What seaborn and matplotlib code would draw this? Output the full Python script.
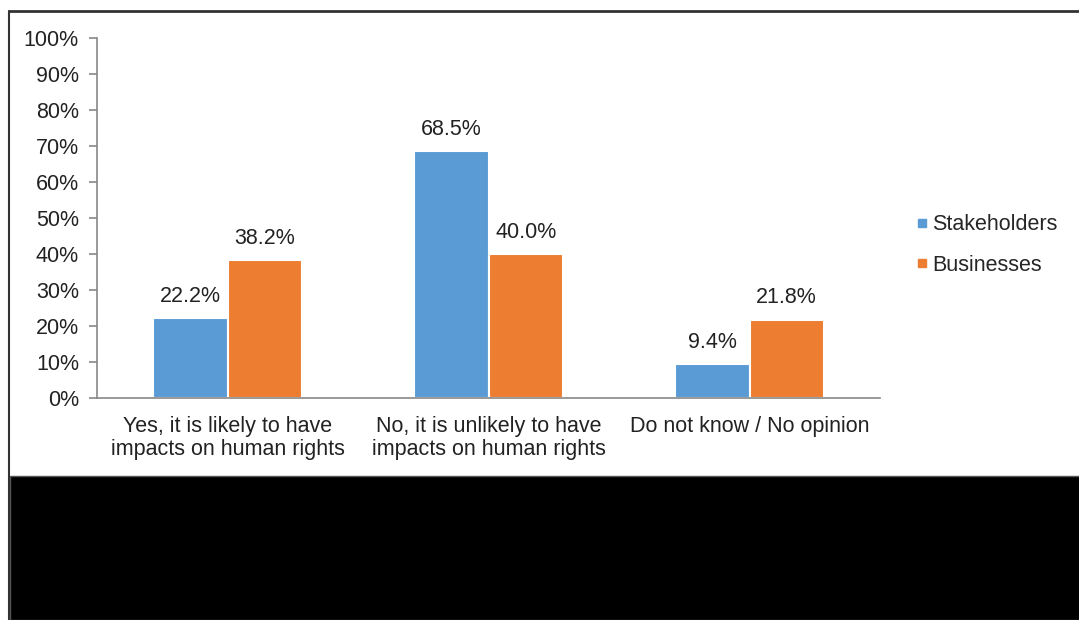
import pandas as pd
import matplotlib.pyplot as plt
import matplotlib.patches as mpatches
from matplotlib.lines import Line2D
import seaborn as sns

# chart data
categories = ['Yes, it is likely to have\nimpacts on human rights',
              'No, it is unlikely to have\nimpacts on human rights',
              'Do not know / No opinion']
groups = ['Stakeholders', 'Businesses']
stakeholders = [22.2, 68.5, 9.4]
businesses = [38.2, 40.0, 21.8]
colors = ['#5B9BD5', '#ED7D31']

df = pd.DataFrame({
    'answer': categories * 2,
    'group': [groups[0]] * 3 + [groups[1]] * 3,
    'value': stakeholders + businesses,
})

sns.set_style('white')
plt.rcParams['font.family'] = ['Liberation Sans', 'DejaVu Sans']
fs = 15.5

fig = plt.figure(figsize=(10.79, 6.2), dpi=100)
ax = fig.add_axes([97 / 1079, 1 - 398 / 620, (880 - 97) / 1079, (398 - 38) / 620])

sns.barplot(data=df, x='answer', y='value', hue='group', palette=colors,
            width=0.57, edgecolor='white', linewidth=1.5, saturation=1,
            legend=False, ax=ax)

# value labels
for cont in ax.containers:
    ax.bar_label(cont, labels=[f'{b.get_height():.1f}%' for b in cont],
                 padding=8, fontsize=fs, color='#222222')

ax.set_xlim(-0.5, 2.5)
ax.set_ylim(0, 100)
ax.set_yticks(range(0, 101, 10))
ax.set_yticklabels([f'{v}%' for v in range(0, 101, 10)], fontsize=fs, color='#222222')
ax.set_xticks(range(3))
ax.set_xticklabels(categories, fontsize=fs, color='#222222', linespacing=1.15)
ax.set_xticks([-0.5, 0.5, 1.5, 2.5], minor=True)
ax.tick_params(axis='x', which='major', length=0, pad=13)
ax.tick_params(axis='x', which='minor', length=6, color='#888888', width=1.2, direction='out')
ax.tick_params(axis='y', length=6, color='#888888', width=1.2, direction='out', pad=7, left=True)
ax.set_xlabel('')
ax.set_ylabel('')
for s in ['top', 'right']:
    ax.spines[s].set_visible(False)
for s in ['left', 'bottom']:
    ax.spines[s].set_color('#888888')
    ax.spines[s].set_linewidth(1.2)

# legend
handles = [Line2D([0], [0], marker='s', linestyle='', markersize=6,
                  markerfacecolor=c, markeredgecolor=c) for c in colors]
fig.legend(handles, groups, loc='center left', bbox_to_anchor=(0.83, 1 - 245 / 620),
           frameon=False, fontsize=fs, handletextpad=0.1, labelspacing=0.9,
           handlelength=0.7)

# page frame and dark block below the chart
fig.add_artist(Line2D([9 / 1079, 1], [1 - 11 / 620, 1 - 11 / 620],
                      color='#333333', linewidth=2, transform=fig.transFigure))
fig.add_artist(Line2D([9 / 1079, 9 / 1079], [0, 1 - 11 / 620],
                      color='#333333', linewidth=1.5, transform=fig.transFigure))
fig.add_artist(mpatches.Rectangle((10 / 1079, 0), 1, (620 - 476) / 620,
                                  facecolor='black', edgecolor='#555555',
                                  transform=fig.transFigure))

fig.savefig('out.png', dpi=100)
